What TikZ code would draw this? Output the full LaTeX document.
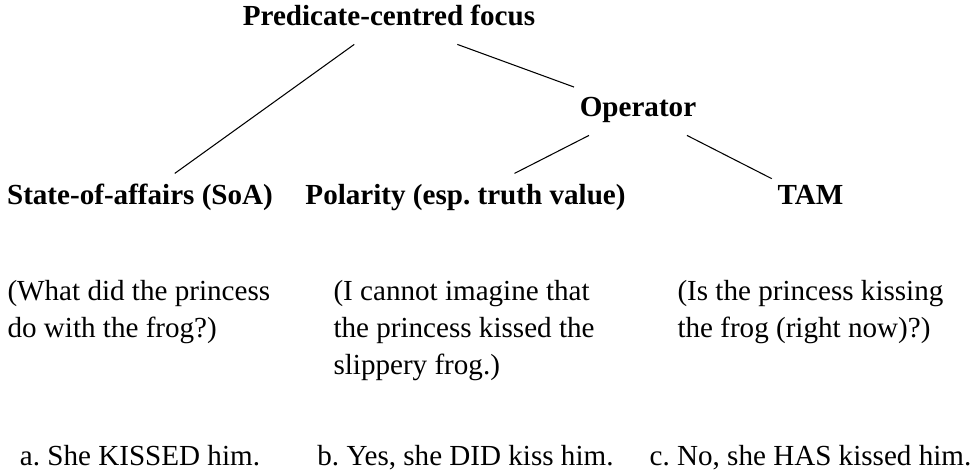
\documentclass[tikz,border=0pt]{standalone}
\usepackage{fontspec}
\setmainfont{Liberation Serif}
\begin{document}
\frenchspacing
\begin{tikzpicture}[font=\fontsize{11}{14}\selectfont,
    cat/.style={font=\fontsize{11}{14}\selectfont\bfseries,
      text height=0.7em, text depth=0.25em, inner xsep=2pt, inner ysep=4.5pt},
    query/.style={anchor=north west, align=left, inner sep=0pt},
    answer/.style={anchor=base, inner sep=0pt},
    level 1/.style={sibling distance=6.616cm, level distance=1.209cm},
    level 2/.style={sibling distance=4.583cm, level distance=1.169cm}]

  \useasboundingbox (0,0) rectangle (12.98,-6.27);

  \node[cat] (focus) at (5.168,-0.258) {Predicate-centred focus}
      child[level distance=2.378cm] {node[cat] (soa) {State-of-affairs (SoA)}}
      child {node[cat] (op) {Operator}
          child {node[cat] (pol) {Polarity (esp. truth value)}}
          child {node[cat] (tam) {TAM}}
      };

  % example questions
  \node[query] (qa) at (0.093,-3.72) {(What did the princess\\do with the frog?)};
  \node[query] (qb) at (4.424,-3.72) {(I cannot imagine that\\the princess kissed the\\slippery frog.)};
  \node[query] (qc) at (8.994,-3.72) {(Is the princess kissing\\the frog (right now)?)};

  % answers
  \node[answer] (ansa) at (soa |- 0,-6.178) {a. She KISSED him.};
  \node[answer] (ansb) at (pol |- 0,-6.178) {b. Yes, she DID kiss him.};
  \node[answer] (ansc) at (tam |- 0,-6.178) {c. No, she HAS kissed him.};
\end{tikzpicture}
\end{document}
